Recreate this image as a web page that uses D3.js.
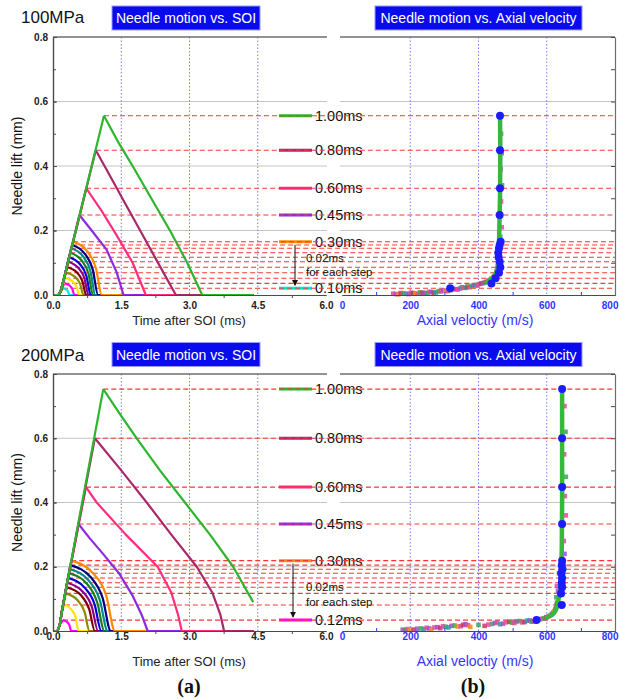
<!DOCTYPE html>
<html>
<head>
<meta charset="utf-8">
<script src="https://cdn.jsdelivr.net/npm/d3@7"></script>
<style>
  body { margin: 0; background: #fff; }
</style>
</head>
<body>
<script>
// ---------- axis ticks ----------
const timeTicks = [0, 1.5, 3.0, 4.5, 6.0];
const timeMinorTicks = [0.75, 2.25, 3.75, 5.25];
const velocityTicks = [0, 200, 400, 600, 800];
const velocityMinorTicks = [100, 300, 500, 700];
const liftTicks = [0, 0.2, 0.4, 0.6, 0.8];
const liftAllTicks = [0, 0.1, 0.2, 0.3, 0.4, 0.5, 0.6, 0.7, 0.8];
const liftGrid = [0.2, 0.4, 0.6];
const timeGrid = [1.5, 3.0, 4.5];
const velocityGrid = [200, 400, 600];

// ---------- 100 MPa: needle lift traces [time after SOI (ms), lift (mm)] ----------
const durations100 = [1.00, 0.80, 0.60, 0.45, 0.30, 0.28, 0.26, 0.24, 0.22, 0.20, 0.18, 0.16, 0.14, 0.12, 0.10];
const colors100 = ["#2db52d", "#a8286a", "#ff2d7e", "#8a2be2", "#ff8a00", "#000080", "#008a8a", "#1a7f1a",
                   "#0000dd", "#8b008b", "#800000", "#8a8a00", "#ffe600", "#ff00ff", "#00e5ee"];
const lift100 = [
  [[0,0],[0.12,0],[0.17,0.012],[0.25,0.055],[1.12,0.556],[1.45,0.47],[1.75,0.40],[2.2,0.29],[2.57,0.20],[2.95,0.10],[3.28,0],[4.4,0]],
  [[0,0],[0.12,0],[0.17,0.012],[0.25,0.055],[0.94,0.449],[1.2,0.383],[1.55,0.293],[1.9,0.204],[2.3,0.102],[2.7,0],[4.4,0]],
  [[0,0],[0.12,0],[0.17,0.012],[0.25,0.055],[0.73,0.331],[1.05,0.265],[1.4,0.185],[1.75,0.10],[2.04,0],[4.4,0]],
  [[0,0],[0.12,0],[0.17,0.012],[0.25,0.055],[0.58,0.248],[0.85,0.20],[1.18,0.14],[1.4,0.07],[1.55,0],[4.4,0]],
  [[0,0],[0.12,0],[0.17,0.012],[0.25,0.055],[0.44,0.165],[0.755,0.135],[0.944,0.083],[1.07,0],[4.4,0]],
  [[0,0],[0.12,0],[0.17,0.012],[0.25,0.055],[0.42,0.155],[0.705,0.127],[0.876,0.078],[0.99,0],[4.4,0]],
  [[0,0],[0.12,0],[0.17,0.012],[0.25,0.055],[0.40,0.145],[0.665,0.119],[0.824,0.073],[0.93,0],[4.4,0]],
  [[0,0],[0.12,0],[0.17,0.012],[0.25,0.055],[0.38,0.131],[0.63,0.107],[0.78,0.066],[0.88,0],[4.4,0]],
  [[0,0],[0.12,0],[0.17,0.012],[0.25,0.055],[0.35,0.117],[0.59,0.096],[0.734,0.059],[0.83,0],[4.4,0]],
  [[0,0],[0.12,0],[0.17,0.012],[0.25,0.055],[0.33,0.103],[0.555,0.084],[0.69,0.052],[0.78,0],[4.4,0]],
  [[0,0],[0.12,0],[0.17,0.012],[0.25,0.055],[0.31,0.086],[0.52,0.071],[0.646,0.043],[0.73,0],[4.4,0]],
  [[0,0],[0.12,0],[0.17,0.012],[0.25,0.055],[0.29,0.069],[0.48,0.057],[0.594,0.035],[0.67,0],[4.4,0]],
  [[0,0],[0.12,0],[0.17,0.012],[0.27,0.052],[0.425,0.043],[0.518,0.026],[0.58,0],[4.4,0]],
  [[0,0],[0.12,0],[0.17,0.012],[0.25,0.036],[0.36,0.030],[0.426,0.018],[0.47,0],[4.4,0]],
  [[0,0],[0.12,0],[0.17,0.012],[0.22,0.021],[0.29,0.017],[0.332,0.011],[0.36,0],[4.4,0]]
];
const legend100 = [1.00, 0.80, 0.60, 0.45, 0.30, 0.10];
// axial velocity (m/s) at the peak lift of each trace
const peakVelocity100 = [463, 463, 463, 462, 465, 462, 460, 458, 459, 462, 464, 460, 450, 438, 317];
// 1.00 ms trajectory [axial velocity, lift]
const trajectory100 = [[425,0.040],[439,0.050],[450,0.065],[456,0.085],[459,0.12],[461,0.2],[463,0.3],[464,0.45],[463,0.556]];
// scattered samples [axial velocity, lift, colour index]
const samples100 = [
  [150,0.004,0],[158,0.003,2],[165,0.002,3],[172,0.006,5],[180,0.005,1],[188,0.004,6],[195,0.003,2],[202,0.007,0],
  [208,0.006,4],[215,0.005,3],[222,0.004,0],[229,0.008,1],[236,0.007,5],[243,0.006,2],[250,0.006,1],[256,0.010,0],
  [262,0.009,2],[269,0.007,5],[276,0.008,6],[283,0.012,1],[290,0.011,0],[297,0.014,2],[303,0.013,3],[310,0.012,0],
  [318,0.015,1],[325,0.019,2],[332,0.018,5],[339,0.017,0],[346,0.020,2],[351,0.024,1],[356,0.023,0],[362,0.022,6],
  [368,0.026,4],[374,0.024,0],[380,0.028,1],[386,0.030,2],[392,0.031,6],[397,0.029,0],[402,0.034,0],[408,0.036,5],
  [414,0.037,2],[419,0.039,1],[424,0.041,5],[429,0.044,0],[433,0.046,1],[437,0.050,2],[441,0.052,3],[444,0.056,0],
  [447,0.059,0],[450,0.063,1],[452,0.068,2],[454,0.074,5],[455,0.080,1],[457,0.088,2],[458,0.095,0],[460,0.110,5],
  [462,0.130,2],[458,0.150,0],[464,0.180,1],[468,0.210,0],[462,0.250,2],[466,0.290,0],[469,0.340,1],[465,0.390,0],
  [468,0.440,2],[466,0.500,1]
];

// ---------- 200 MPa ----------
const durations200 = [1.00, 0.80, 0.60, 0.45, 0.30, 0.28, 0.26, 0.24, 0.22, 0.20, 0.18, 0.16, 0.14, 0.12];
const colors200 = ["#2db52d", "#a8286a", "#ff2d7e", "#8a2be2", "#ff8a00", "#000080", "#008a8a", "#1a7f1a",
                   "#0000dd", "#8b008b", "#800000", "#8a8a00", "#ffe600", "#ff00ff"];
const lift200 = [
  [[0,0],[0.10,0],[0.15,0.02],[0.2,0.065],[1.105,0.753],[1.45,0.68],[1.84,0.60],[2.35,0.50],[2.9,0.40],[3.45,0.30],[3.96,0.20],[4.4,0.09]],
  [[0,0],[0.10,0],[0.15,0.02],[0.2,0.065],[0.92,0.60],[1.5,0.50],[2.06,0.40],[2.6,0.30],[3.16,0.20],[3.5,0.12],[3.68,0.05],[3.76,0],[4.4,0]],
  [[0,0],[0.10,0],[0.15,0.02],[0.2,0.065],[0.725,0.448],[0.96,0.40],[1.6,0.30],[2.3,0.20],[2.6,0.12],[2.75,0.05],[2.83,0],[4.4,0]],
  [[0,0],[0.10,0],[0.15,0.02],[0.2,0.065],[0.56,0.333],[0.8,0.29],[1.1,0.24],[1.45,0.18],[1.75,0.11],[1.95,0.05],[2.08,0],[4.4,0]],
  [[0,0],[0.10,0],[0.15,0.02],[0.2,0.065],[0.40,0.219],[0.88,0.180],[1.17,0.110],[1.36,0],[4.4,0]],
  [[0,0],[0.10,0],[0.15,0.02],[0.2,0.065],[0.38,0.205],[0.825,0.168],[1.09,0.103],[1.27,0],[4.4,0]],
  [[0,0],[0.10,0],[0.15,0.02],[0.2,0.065],[0.37,0.192],[0.785,0.157],[1.03,0.096],[1.20,0],[4.4,0]],
  [[0,0],[0.10,0],[0.15,0.02],[0.2,0.065],[0.35,0.180],[0.74,0.148],[0.97,0.090],[1.13,0],[4.4,0]],
  [[0,0],[0.10,0],[0.15,0.02],[0.2,0.065],[0.33,0.165],[0.695,0.135],[0.914,0.083],[1.06,0],[4.4,0]],
  [[0,0],[0.10,0],[0.15,0.02],[0.2,0.065],[0.31,0.150],[0.65,0.123],[0.854,0.075],[0.99,0],[4.4,0]],
  [[0,0],[0.10,0],[0.15,0.02],[0.2,0.065],[0.30,0.136],[0.61,0.112],[0.796,0.068],[0.92,0],[4.4,0]],
  [[0,0],[0.10,0],[0.15,0.02],[0.2,0.065],[0.28,0.117],[0.54,0.096],[0.696,0.059],[0.80,0],[4.4,0]],
  [[0,0],[0.10,0],[0.15,0.02],[0.2,0.065],[0.26,0.081],[0.41,0.066],[0.50,0.041],[0.56,0],[4.4,0]],
  [[0,0],[0.10,0],[0.15,0.02],[0.22,0.034],[0.31,0.028],[0.364,0.017],[0.40,0],[4.4,0]]
];
const legend200 = [1.00, 0.80, 0.60, 0.45, 0.30, 0.12];
const peakVelocity200 = [645, 645, 645, 645, 645, 644, 646, 643, 645, 644, 645, 642, 644, 570];
const trajectory200 = [[600,0.042],[615,0.050],[624,0.060],[632,0.080],[640,0.14],[644,0.25],[645,0.4],[645,0.6],[645,0.753]];
const samples200 = [
  [178,0.004,2],[185,0.003,1],[192,0.006,0],[200,0.005,3],[210,0.004,5],[220,0.007,2],[232,0.008,1],[240,0.006,6],
  [248,0.010,0],[255,0.008,2],[262,0.006,3],[271,0.011,0],[280,0.012,2],[288,0.009,5],[296,0.015,0],[304,0.013,1],
  [312,0.011,6],[321,0.016,2],[330,0.017,1],[339,0.014,3],[348,0.015,0],[355,0.019,5],[362,0.021,2],[369,0.018,0],
  [376,0.013,3],[400,0.019,1],[418,0.016,5],[429,0.020,0],[440,0.022,1],[448,0.025,2],[455,0.027,0],[463,0.021,6],
  [472,0.023,2],[481,0.027,0],[490,0.029,4],[498,0.026,1],[505,0.025,0],[512,0.030,2],[520,0.031,1],[528,0.027,0],
  [535,0.028,5],[542,0.032,6],[550,0.033,2],[556,0.029,1],[562,0.030,0],[570,0.034,2],[578,0.036,6],[585,0.038,0],
  [592,0.040,1],[599,0.043,5],[605,0.046,0],[610,0.049,3],[615,0.053,2],[619,0.057,1],[622,0.062,3],[625,0.067,2],
  [627,0.072,0],[629,0.080,1],[630,0.088,5],[628,0.105,1],[633,0.125,2],[630,0.140,0],[640,0.160,1],[636,0.180,4],
  [648,0.210,0],[652,0.240,2],[650,0.280,0],[647,0.330,5],[656,0.360,0],[653,0.420,0],[648,0.450,0],[656,0.480,1],
  [651,0.550,0],[655,0.620,1],[652,0.700,0]
];
const samplePalette = ["#e8489a", "#3aa655", "#9b4fd0", "#f08a24", "#8a5a2b", "#c8326e", "#2f9aa0"];

// ---------- layout ----------
const W = 619, H = 699;
const SANS = '"Liberation Sans", Arial, sans-serif';
const SERIF = '"Liberation Serif", "Times New Roman", serif';
const BLUE = "#3434ff";

const svg = d3.select("body").append("svg")
  .attr("width", W).attr("height", H)
  .style("font-family", SANS);
svg.append("rect").attr("width", W).attr("height", H).attr("fill", "#fff");

const defs = svg.append("defs");
defs.append("marker").attr("id", "arrow")
  .attr("viewBox", "0 0 8 8").attr("refX", 7).attr("refY", 4)
  .attr("markerWidth", 6).attr("markerHeight", 6).attr("orient", "auto")
  .append("path").attr("d", "M0,0L8,4L0,8Z").attr("fill", "#111");

const xT = d3.scaleLinear().domain([0, 6]).range([53, 326]);
const xV = d3.scaleLinear().domain([0, 800]).range([342, 615]);
const rightGapStart = 340;
const largeCount = 4; // 1.00, 0.80, 0.60, 0.45 ms traces

const panels = [
  { pressure: "100MPa", durations: durations100, colors: colors100, curves: lift100, legend: legend100,
    peakVel: peakVelocity100, trajectory: trajectory100, samples: samples100,
    top: 37, bottom: 295, labelY: 23, boxY: 6, tickY: 309, titleY: 325, arrowX: 295, noteY: [258, 272] },
  { pressure: "200MPa", durations: durations200, colors: colors200, curves: lift200, legend: legend200,
    peakVel: peakVelocity200, trajectory: trajectory200, samples: samples200,
    top: 374, bottom: 631, labelY: 361, boxY: 342.5, tickY: 640, titleY: 666, arrowX: 293, noteY: [587, 602] }
];

function drawPanel(p) {
  const y = d3.scaleLinear().domain([0, 0.8]).range([p.bottom, p.top]);
  const g = svg.append("g");
  const peaks = p.curves.map(c => c.reduce((a, b) => (b[1] > a[1] ? b : a)));

  // horizontal grey grid (left plot, then right plot)
  liftGrid.forEach(v => {
    [[xT(0), xT(6) + 1], [rightGapStart, xV(800)]].forEach(([a, b]) => {
      g.append("line").attr("x1", a).attr("x2", b).attr("y1", y(v)).attr("y2", y(v))
        .attr("stroke", "#c4c4c4").attr("stroke-width", 1);
    });
  });
  // vertical dotted blue grid
  timeGrid.forEach(t => g.append("line").attr("x1", xT(t)).attr("x2", xT(t))
    .attr("y1", p.top).attr("y2", p.bottom)
    .attr("stroke", "#7a7aff").attr("stroke-width", 1).attr("stroke-dasharray", "1.5,2"));
  velocityGrid.forEach(v => g.append("line").attr("x1", xV(v)).attr("x2", xV(v))
    .attr("y1", p.top).attr("y2", p.bottom)
    .attr("stroke", "#7a7aff").attr("stroke-width", 1).attr("stroke-dasharray", "1.5,2"));

  // legend: line + label at each listed duration's peak lift
  p.legend.forEach(d => {
    const i = p.durations.indexOf(d);
    const ly = y(peaks[i][1]);
    g.append("line").attr("x1", 279).attr("x2", 312).attr("y1", ly).attr("y2", ly)
      .attr("stroke", p.colors[i]).attr("stroke-width", 3);
    g.append("text").attr("x", 315).attr("y", ly).attr("dy", "0.36em")
      .attr("font-size", 14.5).attr("fill", "#111").text(d.toFixed(2) + "ms");
  });

  // red dashed peak-lift lines
  peaks.forEach(pk => {
    g.append("line").attr("x1", xT(pk[0])).attr("x2", xV(800))
      .attr("y1", y(pk[1])).attr("y2", y(pk[1]))
      .attr("stroke", "#ff3636").attr("stroke-width", 1.1).attr("stroke-dasharray", "5,3");
  });

  // step arrow and note
  const iFirst = p.durations.indexOf(p.legend[4]);
  const iLast = p.durations.indexOf(p.legend[5]);
  g.append("line").attr("x1", p.arrowX).attr("x2", p.arrowX)
    .attr("y1", y(peaks[iFirst][1]) + 3).attr("y2", y(peaks[iLast][1]) - 3)
    .attr("stroke", "#111").attr("stroke-width", 1).attr("marker-end", "url(#arrow)");
  g.append("text").attr("x", 306).attr("y", p.noteY[0]).attr("dy", "0.36em")
    .attr("font-size", 11.5).attr("fill", "#111").text("0.02ms");
  g.append("text").attr("x", 306).attr("y", p.noteY[1]).attr("dy", "0.36em")
    .attr("font-size", 11.5).attr("fill", "#111").text("for each step");

  // lift traces: straight opening ramp; long traces close linearly, short ones smoothly
  const lineLin = d3.line().x(d => xT(d[0])).y(d => y(d[1]));
  const lineSmooth = d3.line().x(d => xT(d[0])).y(d => y(d[1])).curve(d3.curveMonotoneX);
  const order = d3.range(p.curves.length).reverse();
  order.forEach(i => {
    const c = p.curves[i];
    const k = c.indexOf(peaks[i]);
    const col = p.colors[i];
    const closing = i < largeCount ? lineLin : lineSmooth;
    g.append("path").attr("d", lineLin(c.slice(0, k + 1))).attr("fill", "none")
      .attr("stroke", col).attr("stroke-width", 2.2).attr("stroke-linejoin", "round");
    g.append("path").attr("d", closing(c.slice(k))).attr("fill", "none")
      .attr("stroke", col).attr("stroke-width", 2.2).attr("stroke-linejoin", "round");
  });

  // right plot: scattered samples, 1.00 ms trajectory, peak markers
  g.selectAll(null).data(p.samples).enter().append("rect")
    .attr("x", d => xV(d[0]) - 2.3).attr("y", d => y(d[1]) - 2.3)
    .attr("width", 4.6).attr("height", 4.6)
    .attr("fill", d => samplePalette[d[2]]).attr("opacity", 0.85);
  g.append("path").attr("d", d3.line().x(d => xV(d[0])).y(d => y(d[1]))(p.trajectory))
    .attr("fill", "none").attr("stroke", "#36b83c").attr("stroke-width", 4.5)
    .attr("stroke-linecap", "round").attr("stroke-linejoin", "round");
  g.selectAll(null).data(p.peakVel).enter().append("circle")
    .attr("cx", d => xV(d)).attr("cy", (d, i) => y(peaks[i][1])).attr("r", 4)
    .attr("fill", "#1c1cff");

  // frame: top border (split), left axis, right axis
  [[xT(0), xT(6) + 1], [rightGapStart, xV(800)]].forEach(([a, b]) => {
    g.append("line").attr("x1", a).attr("x2", b).attr("y1", p.top).attr("y2", p.top)
      .attr("stroke", "#6e6e6e").attr("stroke-width", 1.5);
  });

  const axLeft = g.append("g").attr("transform", `translate(${xT(0)},0)`)
    .call(d3.axisLeft(y).tickValues(liftTicks).tickFormat(d3.format(".1f"))
      .tickSizeInner(-4).tickSizeOuter(0).tickPadding(5));
  const axLeftMinor = g.append("g").attr("transform", `translate(${xT(0)},0)`)
    .call(d3.axisLeft(y).tickValues(liftAllTicks).tickFormat("").tickSizeInner(-3).tickSizeOuter(0));
  const axRight = g.append("g").attr("transform", `translate(${xV(800)},0)`)
    .call(d3.axisRight(y).tickValues(liftAllTicks).tickFormat("").tickSizeInner(-4).tickSizeOuter(0));

  const axTime = g.append("g").attr("transform", `translate(0,${p.bottom})`)
    .call(d3.axisBottom(xT).tickValues(timeTicks).tickFormat(d3.format(".1f")).tickSize(0).tickPadding(0));
  const axTimeMinor = g.append("g").attr("transform", `translate(0,${p.bottom})`)
    .call(d3.axisBottom(xT).tickValues(timeMinorTicks).tickFormat("").tickSizeInner(3).tickSizeOuter(0));
  const axVel = g.append("g").attr("transform", `translate(0,${p.bottom})`)
    .call(d3.axisBottom(xV).tickValues(velocityTicks).tickFormat(d3.format("d")).tickSize(0).tickPadding(0));
  const axVelMinor = g.append("g").attr("transform", `translate(0,${p.bottom})`)
    .call(d3.axisBottom(xV).tickValues(velocityMinorTicks).tickFormat("").tickSizeInner(-3).tickSizeOuter(0));

  [axLeft, axLeftMinor, axRight, axTime, axTimeMinor].forEach(a => {
    a.select(".domain").attr("stroke", "#4a4a4a").attr("stroke-width", 1.2);
    a.selectAll(".tick line").attr("stroke", "#4a4a4a");
  });
  axRight.select(".domain").attr("stroke", "#6e6e6e");
  [axVel, axVelMinor].forEach(a => {
    a.select(".domain").attr("stroke", BLUE).attr("stroke-width", 1.2);
    a.selectAll(".tick line").attr("stroke", BLUE);
  });
  [axLeft, axTime, axVel].forEach(a => a.selectAll("text")
    .attr("font-family", SANS).attr("font-size", 10).attr("font-weight", "bold"));
  axLeft.selectAll("text").attr("fill", "#222");
  axTime.selectAll("text").attr("fill", "#222").attr("dy", null).attr("y", p.tickY - p.bottom);
  axVel.selectAll("text").attr("fill", BLUE).attr("dy", null).attr("y", p.tickY - p.bottom);
  // keep the last velocity label inside the page edge
  axVel.selectAll(".tick text").filter(d => d === 800).attr("text-anchor", "end").attr("x", 3);

  // axis titles
  g.append("text").attr("transform", `translate(17,${(p.top + p.bottom) / 2}) rotate(-90)`)
    .attr("text-anchor", "middle").attr("dy", "0.36em")
    .attr("font-size", 14).attr("fill", "#111").text("Needle lift (mm)");
  g.append("text").attr("x", 189).attr("y", p.titleY).attr("text-anchor", "middle")
    .attr("font-size", 13).attr("fill", "#222").text("Time after SOI (ms)");
  g.append("text").attr("x", 475).attr("y", p.titleY).attr("text-anchor", "middle")
    .attr("font-size", 14).attr("fill", BLUE).text("Axial veloctiy (m/s)");

  // panel heading
  g.append("text").attr("x", 21).attr("y", p.labelY)
    .attr("font-size", 17).attr("fill", "#111").text(p.pressure);
  [["Needle motion vs. SOI", 112, 148], ["Needle motion vs. Axial velocity", 375, 207]].forEach(([t, bx, bw]) => {
    g.append("rect").attr("x", bx).attr("y", p.boxY).attr("width", bw).attr("height", 24)
      .attr("fill", "#0a0aee").attr("stroke", "#9a9aff").attr("stroke-width", 1);
    g.append("text").attr("x", bx + bw / 2).attr("y", p.boxY + 12).attr("dy", "0.36em")
      .attr("text-anchor", "middle").attr("font-size", 14).attr("fill", "#fff").text(t);
  });
}

panels.forEach(drawPanel);

// sub-figure captions
svg.append("text").attr("x", 189).attr("y", 693).attr("text-anchor", "middle")
  .attr("font-family", SERIF).attr("font-weight", "bold").attr("font-size", 20).attr("fill", "#111").text("(a)");
svg.append("text").attr("x", 473).attr("y", 693).attr("text-anchor", "middle")
  .attr("font-family", SERIF).attr("font-weight", "bold").attr("font-size", 20).attr("fill", "#111").text("(b)");
</script>
</body>
</html>
